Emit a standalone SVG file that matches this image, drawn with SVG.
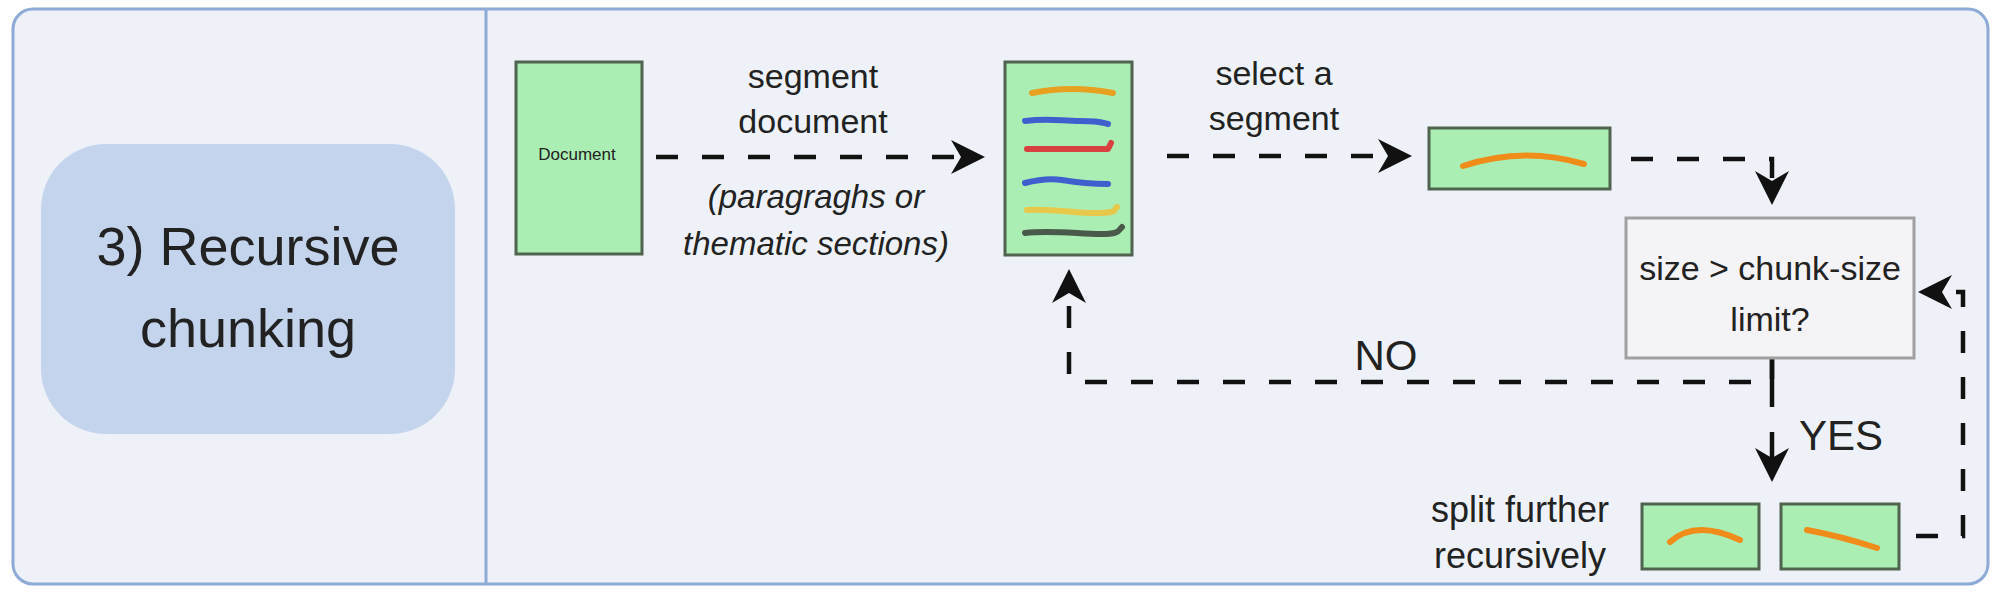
<svg xmlns="http://www.w3.org/2000/svg" width="2000" height="594" viewBox="0 0 2000 594">
<style>
.lbl{font-family:"Liberation Sans",Arial,sans-serif;fill:#222;text-anchor:middle}
.it{font-family:"Liberation Sans",Arial,sans-serif;font-style:italic;fill:#222;text-anchor:middle}
.box{fill:#abeeb4;stroke:#4f634f;stroke-width:3}
.conn{fill:none;stroke:#111;stroke-width:4.5;stroke-dasharray:22 24}
.sq{fill:none;stroke-width:6;stroke-linecap:round;stroke-linejoin:round}
</style>
<defs>
<marker id="ah" viewBox="-36 -19 40 38" refX="-24" refY="0" markerWidth="40" markerHeight="38" markerUnits="userSpaceOnUse" orient="auto">
<path d="M0,0 L-34,-17 L-24,0 L-34,17 Z" fill="#111"/>
</marker>
</defs>
<rect x="0" y="0" width="2000" height="594" fill="#ffffff"/>
<g id="frame">
<rect x="13" y="9" width="1975" height="575" rx="20" fill="#eef2f8" stroke="#8eaad6" stroke-width="3"/>
<line x1="486" y1="9" x2="486" y2="584" stroke="#8eaad6" stroke-width="3"/>
</g>
<g id="title">
<rect x="41" y="144" width="414" height="290" rx="65" fill="#c3d4ec"/>
<text class="lbl" x="248" y="265" font-size="54" fill="#1a1a2a">3) Recursive</text>
<text class="lbl" x="248" y="347" font-size="54" fill="#1a1a2a">chunking</text>
</g>
<g id="connectors">
<path class="conn" d="M656,157 H961" marker-end="url(#ah)"/>
<path class="conn" d="M1167,156 H1388" marker-end="url(#ah)"/>
<path class="conn" d="M1631,159 H1772 V181" marker-end="url(#ah)"/>
<path class="conn" d="M1772,357 V382 H1069 V293" marker-end="url(#ah)"/>
<path class="conn" d="M1772,357 V458" style="stroke-dasharray:50 25" marker-end="url(#ah)"/>
<path class="conn" d="M1916,536 H1963 V292 H1942" marker-end="url(#ah)"/>
</g>
<g id="labels">
<text class="lbl" x="813" y="88" font-size="34">segment</text>
<text class="lbl" x="813" y="133" font-size="34">document</text>
<text class="it" x="816" y="208" font-size="33">(paragraghs or</text>
<text class="it" x="816" y="255" font-size="33">thematic sections)</text>
<text class="lbl" x="1274" y="85" font-size="34">select a</text>
<text class="lbl" x="1274" y="130" font-size="34">segment</text>
<text class="lbl" x="1386" y="370" font-size="42">NO</text>
<text class="lbl" x="1841" y="450" font-size="42">YES</text>
<text class="lbl" x="1520" y="522" font-size="36">split further</text>
<text class="lbl" x="1520" y="568" font-size="36">recursively</text>
</g>
<g id="document">
<rect class="box" x="516" y="62" width="126" height="192"/>
<text class="lbl" x="577" y="160" font-size="17" fill="#333">Document</text>
</g>
<g id="segments">
<rect class="box" x="1005" y="62" width="127" height="193"/>
<path class="sq" stroke="#e8a020" d="M1032,93 Q1072,85 1113,93"/>
<path class="sq" stroke="#3f5fcf" d="M1025,121 C1050,118 1060,121 1080,121 S1100,122 1108,124"/>
<path class="sq" stroke="#d94040" d="M1027,149 H1108 L1111,143"/>
<path class="sq" stroke="#3f5fcf" d="M1025,183 C1040,179 1050,178 1062,180 S1090,184 1108,184"/>
<path class="sq" stroke="#e8c84a" d="M1027,210 C1050,208 1080,214 1100,213 S1113,209 1117,207"/>
<path class="sq" stroke="#4a5a4a" d="M1025,233 C1050,230 1080,234 1100,234 S1118,231 1122,227"/>
</g>
<g id="selected">
<rect class="box" x="1429" y="128" width="181" height="61"/>
<path class="sq" stroke="#ef8c1a" stroke-width="7" d="M1463,166 Q1523,146 1584,164"/>
</g>
<g id="decision">
<rect x="1626" y="218" width="288" height="140" fill="#f4f3f5" stroke="#a0a0a0" stroke-width="3"/>
<text class="lbl" x="1770" y="280" font-size="34">size &gt; chunk-size</text>
<text class="lbl" x="1770" y="331" font-size="34">limit?</text>
</g>
<g id="chunkA">
<rect class="box" x="1642" y="504" width="117" height="65"/>
<path class="sq" stroke="#ef8c1a" stroke-width="7" d="M1670,542 Q1695,519 1740,540"/>
</g>
<g id="chunkB">
<rect class="box" x="1781" y="504" width="118" height="65"/>
<path class="sq" stroke="#ef8c1a" stroke-width="7" d="M1807,530 Q1840,536 1877,548"/>
</g>
</svg>
